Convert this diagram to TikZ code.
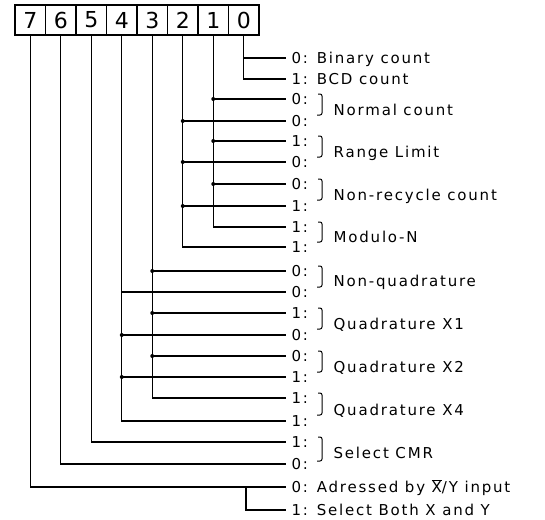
\documentclass[tikz,border=0pt]{standalone}
\usepackage{fontspec}
\setmainfont{DejaVu Sans}[LetterSpace=12]
\newcommand{\pbrace}[2]{\draw[line width=1pt,rounded corners=2pt] (318,#1) -| (322,#2) -- (317,#2);}

\begin{document}
\begin{tikzpicture}[x=1pt,y=-1pt,line width=1.3pt,
  bit/.style={draw,line width=1.1pt,minimum width=30.5pt,minimum height=30pt,inner sep=0pt,font=\fontsize{22}{22}\selectfont},
  val/.style={anchor=west,inner xsep=5pt,inner ysep=0pt,text height=11pt,text depth=0pt,font=\fontsize{15}{15}\selectfont},
  desc/.style={anchor=west,inner sep=0pt,text height=11pt,text depth=0pt,font=\fontsize{15}{15}\selectfont}]
\useasboundingbox (0,0) rectangle (545,519);
\node[bit] (b7) at (30.25,20) {7};
\node[bit] (b6) at (60.75,20) {6};
\node[bit] (b5) at (91.25,20) {5};
\node[bit] (b4) at (121.75,20) {4};
\node[bit] (b3) at (152.25,20) {3};
\node[bit] (b2) at (182.75,20) {2};
\node[bit] (b1) at (213.25,20) {1};
\node[bit] (b0) at (243.75,20) {0};

\node[val] (v0a) at (286,58) {0: Binary count};
\node[val] (v0b) at (286,79) {1: BCD count};
\node[val] (v1a) at (286,99) {0:};
\node[val] (v2a) at (286,121) {0:};
\node[desc] (dnorm) at (333,110) {Normal count};
\node[val] (v1b) at (286,141) {1:};
\node[val] (v2b) at (286,162) {0:};
\node[desc] (drange) at (333,152) {Range Limit};
\node[val] (v1c) at (286,184) {0:};
\node[val] (v2c) at (286,206) {1:};
\node[desc] (dnonrec) at (333,195) {Non-recycle count};
\node[val] (v1d) at (286,227) {1:};
\node[val] (v2d) at (286,247) {1:};
\node[desc] (dmod) at (333,237) {Modulo-N};
\node[val] (v3a) at (286,271) {0:};
\node[val] (v4a) at (286,292) {0:};
\node[desc] (dnonq) at (333,281) {Non-quadrature};
\node[val] (v3b) at (286,313) {1:};
\node[val] (v4b) at (286,335) {0:};
\node[desc] (dqx1) at (333,324) {Quadrature X1};
\node[val] (v3c) at (286,356) {0:};
\node[val] (v4c) at (286,377) {1:};
\node[desc] (dqx2) at (333,367) {Quadrature X2};
\node[val] (v3d) at (286,398) {1:};
\node[val] (v4d) at (286,421) {1:};
\node[desc] (dqx4) at (333,410) {Quadrature X4};
\node[val] (v5) at (286,442) {1:};
\node[val] (v6) at (286,464) {0:};
\node[desc] (dcmr) at (333,453) {Select CMR};
\node[val] (v7a) at (286,487) {0: Adressed by $\overline{\mbox{X}}$/Y input};
\node[val] (v7b) at (286,510) {1: Select Both X and Y};
\coordinate (br7) at (246,487);

% braces
\pbrace{94}{115} \pbrace{136}{157} \pbrace{179}{200} \pbrace{222}{242}
\pbrace{266}{287} \pbrace{308}{329} \pbrace{351}{372} \pbrace{393}{415}
\pbrace{437}{461}

% bit 0
\draw (b0) |- (v0b); \draw (b0 |- v0a) -- (v0a);
% bits 1 and 2
\draw (b1) |- (v1d); \draw (b1 |- v1a) -- (v1a); \draw (b1 |- v1b) -- (v1b); \draw (b1 |- v1c) -- (v1c);
\draw (b2) |- (v2d); \draw (b2 |- v2a) -- (v2a); \draw (b2 |- v2b) -- (v2b); \draw (b2 |- v2c) -- (v2c);
\fill (b1 |- v1a) circle (2); \fill (b1 |- v1b) circle (2); \fill (b1 |- v1c) circle (2);
\fill (b2 |- v2a) circle (2); \fill (b2 |- v2b) circle (2); \fill (b2 |- v2c) circle (2);
% bits 3 and 4
\draw (b3) |- (v3d); \draw (b3 |- v3a) -- (v3a); \draw (b3 |- v3b) -- (v3b); \draw (b3 |- v3c) -- (v3c);
\draw (b4) |- (v4d); \draw (b4 |- v4a) -- (v4a); \draw (b4 |- v4b) -- (v4b); \draw (b4 |- v4c) -- (v4c);
\fill (b3 |- v3a) circle (2); \fill (b3 |- v3b) circle (2); \fill (b3 |- v3c) circle (2);
\fill (b4 |- v4b) circle (2); \fill (b4 |- v4c) circle (2);
% bits 5, 6, 7
\draw (b5) |- (v5); \draw (b6) |- (v6);
\draw (b7) |- (v7a); \draw (br7) |- (v7b);
\end{tikzpicture}
\end{document}
